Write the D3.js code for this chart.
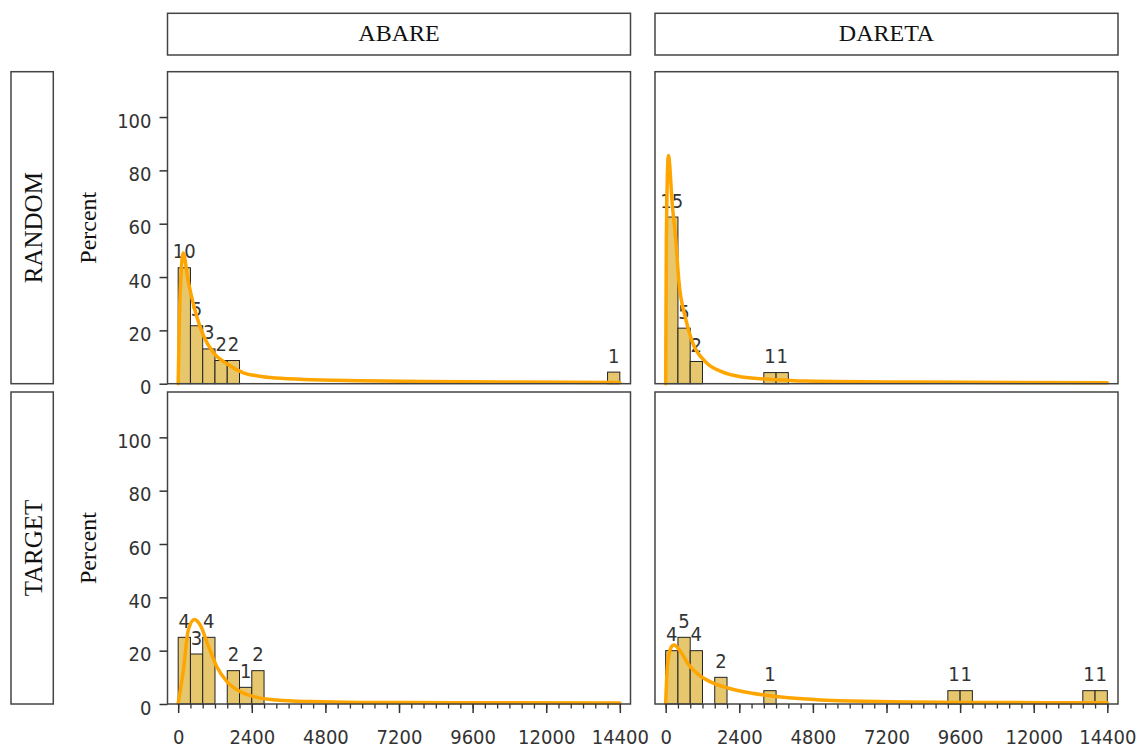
<!DOCTYPE html>
<html>
<head>
<meta charset="utf-8">
<script src="https://cdn.jsdelivr.net/npm/d3@7/dist/d3.min.js"></script>
<style>
  body { margin: 0; background: #fff; }
  svg { display: block; }
</style>
</head>
<body>
<div id="chart"></div>
<script>
// facet labels
const columns = ["ABARE", "DARETA"];
const rows = ["RANDOM", "TARGET"];
const binWidth = 400;

// histogram bins: left edge of each bin and its count
const abareRandomBins = [0, 400, 800, 1200, 1600, 14000];
const abareRandomCounts = [10, 5, 3, 2, 2, 1];
const daretaRandomBins = [0, 400, 800, 3200, 3600];
const daretaRandomCounts = [15, 5, 2, 1, 1];
const abareTargetBins = [0, 400, 800, 1600, 2000, 2400];
const abareTargetCounts = [4, 3, 4, 2, 1, 2];
const daretaTargetBins = [0, 400, 800, 1600, 3200, 9200, 9600, 13600, 14000];
const daretaTargetCounts = [4, 5, 4, 2, 1, 1, 1, 1, 1];

// fitted density curves as [value, percent]
const abareRandomCurve = [[0,0],[43,26],[90,40],[160,49],[230,46],[290,41],[420,33.5],[610,25],[825,18],[1150,11.6],[1585,7.5],[2130,4.1],[2600,2.9],[3000,2.3],[4080,1.6],[5930,1.1],[8000,0.8],[11000,0.6],[14400,0.45]];
const daretaRandomCurve = [[0,0],[22,54],[88,85.6],[217,67],[325,54.5],[433,38.2],[650,24.4],[868,15.7],[1300,8.2],[1843,4.4],[2493,2.5],[3470,1.6],[4550,1.0],[8000,0.6],[14400,0.4]];
const abareTargetCurve = [[0,0.3],[170,12.7],[330,27.7],[530,31.7],[720,29.6],[990,21.5],[1260,14],[1590,8.4],[2030,4.6],[2570,2.5],[3220,1.5],[4310,0.9],[5950,0.6],[9000,0.5],[14400,0.4]];
const daretaTargetCurve = [[0,0.3],[55,14],[163,20.9],[270,22.1],[488,19.6],[757,14.6],[1083,10.9],[1518,8],[2058,5.9],[2819,4],[3683,2.7],[4551,1.9],[5634,1.2],[9600,0.6],[14400,0.45]];

const yTicks = [0, 20, 40, 60, 80, 100];
const xMajorTicks = [0, 2400, 4800, 7200, 9600, 12000, 14400];
const xMinorTicks = d3.range(0, 14401, 400);

const panels = [
  { row: 0, col: 0, bins: abareRandomBins, counts: abareRandomCounts, curve: abareRandomCurve },
  { row: 0, col: 1, bins: daretaRandomBins, counts: daretaRandomCounts, curve: daretaRandomCurve },
  { row: 1, col: 0, bins: abareTargetBins, counts: abareTargetCounts, curve: abareTargetCurve },
  { row: 1, col: 1, bins: daretaTargetBins, counts: daretaTargetCounts, curve: daretaTargetCurve }
];

var width = 1143,
    height = 751;
var colX = [167.5, 655],
    rowY = [71.7, 392],
    panelW = 463,
    panelH = 312;

var numFont = "'DejaVu Sans Condensed', 'DejaVu Sans', sans-serif";
var numSize = "20px";
var serifFont = "'Liberation Serif', 'Times New Roman', serif";

var svg = d3.select("#chart")
  .append("svg")
  .attr("width", width)
  .attr("height", height);

// column strips
columns.forEach(function (name, c) {
  svg.append("rect")
    .attr("x", colX[c]).attr("y", 13.3)
    .attr("width", panelW).attr("height", 41.7)
    .attr("fill", "#fff").attr("stroke", "#444").attr("stroke-width", 1.5);
  svg.append("text")
    .attr("x", colX[c] + panelW / 2).attr("y", 33)
    .attr("dy", "0.35em")
    .attr("text-anchor", "middle")
    .style("font-family", serifFont).style("font-size", "24px").style("fill", "#111")
    .text(name);
});

// row strips + y titles
rows.forEach(function (name, r) {
  var cy = rowY[r] + panelH / 2;
  svg.append("rect")
    .attr("x", 11).attr("y", rowY[r])
    .attr("width", 42.3).attr("height", panelH)
    .attr("fill", "#fff").attr("stroke", "#444").attr("stroke-width", 1.5);
  svg.append("text")
    .attr("transform", "translate(33," + cy + ") rotate(-90)")
    .attr("dy", "0.35em")
    .attr("text-anchor", "middle")
    .style("font-family", serifFont).style("font-size", "25px").style("fill", "#111")
    .text(name);
  svg.append("text")
    .attr("transform", "translate(88," + cy + ") rotate(-90)")
    .attr("dy", "0.35em")
    .attr("text-anchor", "middle")
    .style("font-family", serifFont).style("font-size", "24px").style("fill", "#111")
    .text("Percent");
});

panels.forEach(function (p) {
  var x0 = colX[p.col], y0 = rowY[p.row];
  var xScale = d3.scaleLinear().domain([-348, 14748]).range([x0, x0 + panelW]);
  var yScale = d3.scaleLinear().domain([0, 117]).range([y0 + panelH, y0]);
  var total = d3.sum(p.counts);
  var bars = p.bins.map(function (b, i) {
    return { x: b, n: p.counts[i], pct: p.counts[i] / total * 100 };
  });

  var g = svg.append("g");

  g.selectAll("rect.bar")
    .data(bars)
    .enter()
    .append("rect")
    .attr("class", "bar")
    .attr("x", function (d) { return xScale(d.x); })
    .attr("y", function (d) { return yScale(d.pct); })
    .attr("width", function (d) { return xScale(d.x + binWidth) - xScale(d.x); })
    .attr("height", function (d) { return yScale(0) - yScale(d.pct); })
    .style("fill", "#E6C76E")
    .style("stroke", "#222")
    .style("stroke-width", 1);

  g.selectAll("text.count")
    .data(bars)
    .enter()
    .append("text")
    .attr("class", "count")
    .attr("x", function (d) { return xScale(d.x + binWidth / 2); })
    .attr("y", function (d) { return yScale(d.pct) - 9.5; })
    .attr("text-anchor", "middle")
    .style("font-family", numFont).style("font-size", numSize).style("fill", "#333")
    .text(function (d) { return d.n; });

  var line = d3.line()
    .x(function (d) { return xScale(d[0]); })
    .y(function (d) { return yScale(d[1]); })
    .curve(d3.curveMonotoneX);

  g.append("path")
    .datum(p.curve)
    .attr("d", line)
    .style("fill", "none")
    .style("stroke", "#FFA500")
    .style("stroke-width", 3.5)
    .style("stroke-linejoin", "round")
    .style("stroke-linecap", "round");

  // panel frame
  g.append("rect")
    .attr("x", x0).attr("y", y0)
    .attr("width", panelW).attr("height", panelH)
    .style("fill", "none").style("stroke", "#444").style("stroke-width", 1.5);

  // y axis only on the left column
  if (p.col === 0) {
    var yAxis = d3.axisLeft(yScale).tickValues(yTicks).tickSize(8).tickPadding(8);
    var ya = g.append("g")
      .attr("transform", "translate(" + x0 + ",0)")
      .call(yAxis);
    ya.select(".domain").remove();
    ya.selectAll("line").attr("stroke", "#333").attr("stroke-width", 1.5);
    ya.selectAll("text")
      .attr("dy", "0.5em")
      .style("font-family", numFont).style("font-size", numSize).style("fill", "#333");
  }

  // x axis only on the bottom row
  if (p.row === 1) {
    var xMinor = d3.axisBottom(xScale).tickValues(xMinorTicks).tickSize(4.5).tickFormat("");
    var xm = g.append("g")
      .attr("transform", "translate(0," + (y0 + panelH) + ")")
      .call(xMinor);
    xm.select(".domain").remove();
    xm.selectAll("line").attr("stroke", "#333").attr("stroke-width", 1.3);

    var xAxis = d3.axisBottom(xScale).tickValues(xMajorTicks).tickSize(9).tickPadding(17)
      .tickFormat(d3.format("d"));
    var xa = g.append("g")
      .attr("transform", "translate(0," + (y0 + panelH) + ")")
      .call(xAxis);
    xa.select(".domain").remove();
    xa.selectAll("line").attr("stroke", "#333").attr("stroke-width", 1.5);
    xa.selectAll("text")
      .style("font-family", numFont).style("font-size", numSize).style("fill", "#333");
  }
});
</script>
</body>
</html>
